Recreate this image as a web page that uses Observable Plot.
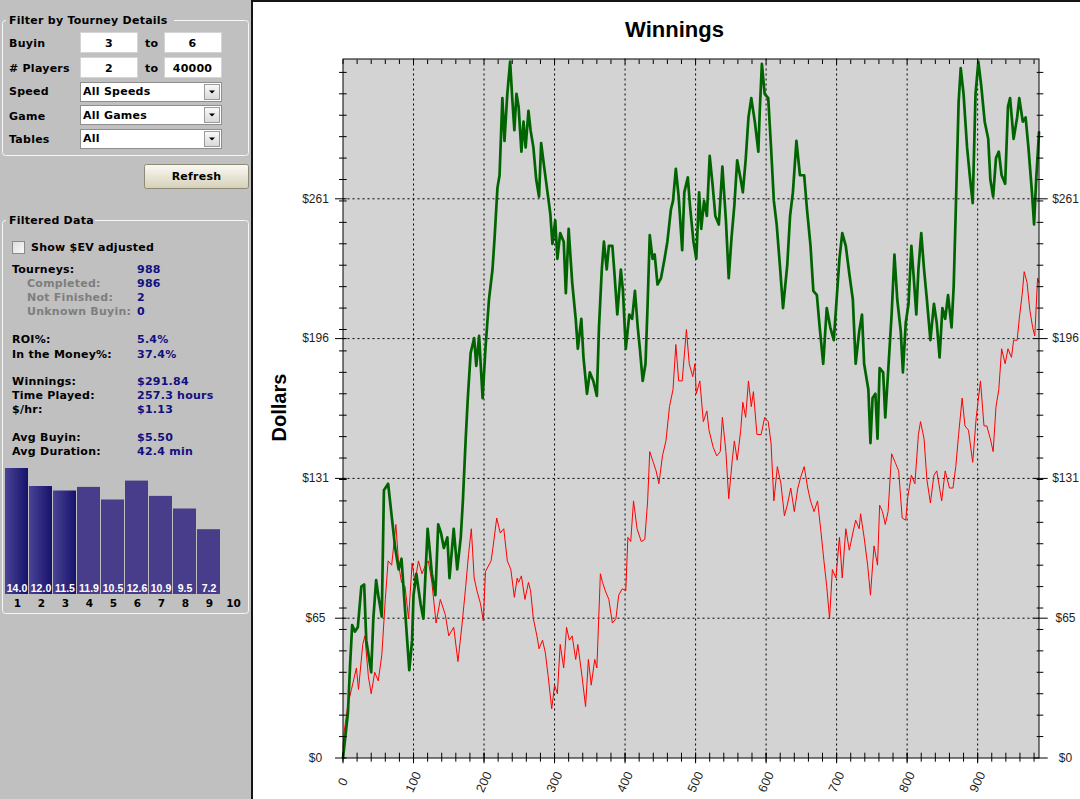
<!DOCTYPE html>
<html>
<head>
<meta charset="utf-8">
<script src="https://cdn.jsdelivr.net/npm/d3@7"></script>
<script src="https://cdn.jsdelivr.net/npm/@observablehq/plot@0.6"></script>
<style>
  html, body { margin:0; padding:0; }
  body { width:1080px; height:799px; position:relative; overflow:hidden; background:#fff; }
  #panel { position:absolute; left:0; top:0; }
  #bars { position:absolute; left:0; top:455px; width:250px; height:160px; }
  #chart { position:absolute; left:253px; top:0; }
  #sep { position:absolute; left:251px; top:0; width:2px; height:799px; background:#141414; }
  #topline { position:absolute; left:253px; top:0; width:827px; height:2px; background:#141414; }
  .pt { font-family:"DejaVu Sans", sans-serif; font-weight:bold; font-size:11px; letter-spacing:0.25px; }
</style>
</head>
<body>
<svg id="panel" width="251" height="799" xmlns="http://www.w3.org/2000/svg">
  <defs>
    <linearGradient id="btnGrad" x1="0" y1="0" x2="0" y2="1">
      <stop offset="0" stop-color="#fbfaf4"/><stop offset="1" stop-color="#d5d0b8"/>
    </linearGradient>
    <linearGradient id="ddGrad" x1="0" y1="0" x2="0" y2="1">
      <stop offset="0" stop-color="#fafafa"/><stop offset="1" stop-color="#d8d8d8"/>
    </linearGradient>
    <linearGradient id="cbGrad" x1="0" y1="0" x2="1" y2="1">
      <stop offset="0" stop-color="#dcdcdc"/><stop offset="1" stop-color="#fbfbfb"/>
    </linearGradient>
    <linearGradient id="barGrad" x1="0" y1="0" x2="1" y2="0">
      <stop offset="0" stop-color="#4a4396"/><stop offset="1" stop-color="#16126a"/>
    </linearGradient>
  </defs>
  <rect width="251" height="799" fill="#c0c0c0"/>
  <g fill="none" stroke="#f6f6f6">
    <rect x="2.5" y="20.5" width="246" height="135" rx="3"/>
    <rect x="2.5" y="220.5" width="246" height="393" rx="3"/>
  </g>
  <rect x="6" y="13" width="168" height="13" fill="#c0c0c0"/>
  <rect x="6" y="213" width="89" height="13" fill="#c0c0c0"/>
  <g class="pt" fill="#000">
    <text x="9" y="23.5">Filter by Tourney Details</text>
    <text x="9" y="47">Buyin</text>
    <text x="9" y="71.5">&#35; Players</text>
    <text x="9" y="94.7">Speed</text>
    <text x="9" y="119.5">Game</text>
    <text x="9" y="143">Tables</text>
  </g>
  <g fill="#fff" stroke="#d4d4d4">
    <rect x="80.5" y="32.5" width="57" height="20"/>
    <rect x="164.5" y="32.5" width="57" height="20"/>
    <rect x="80.5" y="57.5" width="57" height="20"/>
    <rect x="164.5" y="57.5" width="57" height="20"/>
  </g>
  <g fill="#fff" stroke="#8e8e8e">
    <rect x="80.5" y="82.5" width="141" height="19"/>
    <rect x="80.5" y="105.5" width="141" height="19"/>
    <rect x="80.5" y="129.5" width="141" height="19"/>
  </g>
  <g fill="url(#ddGrad)" stroke="#9a9a9a">
    <rect x="204.5" y="84.5" width="15" height="15"/>
    <rect x="204.5" y="107.5" width="15" height="15"/>
    <rect x="204.5" y="131.5" width="15" height="15"/>
  </g>
  <g fill="#000">
    <path d="M209,90.5 L215,90.5 L212,93.5 Z"/>
    <path d="M209,113.5 L215,113.5 L212,116.5 Z"/>
    <path d="M209,137.5 L215,137.5 L212,140.5 Z"/>
  </g>
  <g class="pt" fill="#000">
    <text x="109" y="47" text-anchor="middle">3</text>
    <text x="145" y="47">to</text>
    <text x="192.5" y="47" text-anchor="middle">6</text>
    <text x="109" y="71.5" text-anchor="middle">2</text>
    <text x="145" y="71.5">to</text>
    <text x="192.5" y="71.5" text-anchor="middle">40000</text>
    <text x="83" y="95">All Speeds</text>
    <text x="83" y="119">All Games</text>
    <text x="83" y="142.3">All</text>
  </g>
  <rect x="144.5" y="164.5" width="104" height="24" rx="2" fill="url(#btnGrad)" stroke="#8c8975"/>
  <text class="pt" x="196.5" y="180" text-anchor="middle" fill="#000">Refresh</text>
  <text class="pt" x="9" y="223.5" fill="#000">Filtered Data</text>
  <rect x="12.5" y="241.5" width="12" height="12" fill="url(#cbGrad)" stroke="#8a8a8a"/>
  <text class="pt" x="31" y="251" fill="#000">Show $EV adjusted</text>
  <g id="stats" class="pt"></g>
</svg>
<div id="bars"></div>
<div id="chart"></div>
<div id="sep"></div>
<div id="topline"></div>
<script>
// ---------- Left panel statistics ----------
const statLabels = ["Tourneys:", "Completed:", "Not Finished:", "Unknown Buyin:", "ROI%:", "In the Money%:", "Winnings:", "Time Played:", "$/hr:", "Avg Buyin:", "Avg Duration:"];
const statValues = ["988", "986", "2", "0", "5.4%", "37.4%", "$291.84", "257.3 hours", "$1.13", "$5.50", "42.4 min"];
const statIndented = [false, true, true, true, false, false, false, false, false, false, false];
const statRowY = [272.7, 287, 301, 315, 343.3, 357.5, 385, 399, 413, 441, 455];

const statsG = document.getElementById("stats");
const NS = "http://www.w3.org/2000/svg";
statLabels.forEach((lab, i) => {
  const t = document.createElementNS(NS, "text");
  t.setAttribute("x", statIndented[i] ? 27 : 12);
  t.setAttribute("y", statRowY[i]);
  t.setAttribute("fill", statIndented[i] ? "#7e7e7e" : "#000");
  t.textContent = lab;
  statsG.appendChild(t);
  const v = document.createElementNS(NS, "text");
  v.setAttribute("x", 137);
  v.setAttribute("y", statRowY[i]);
  v.setAttribute("fill", "#10107e");
  v.textContent = statValues[i];
  statsG.appendChild(v);
});

// ---------- Small bar chart ----------
const barCats = ["1", "2", "3", "4", "5", "6", "7", "8", "9", "10"];
const barVals = [14.0, 12.0, 11.5, 11.9, 10.5, 12.6, 10.9, 9.5, 7.2, null];
const barText = ["14.0", "12.0", "11.5", "11.9", "10.5", "12.6", "10.9", "9.5", "7.2", ""];
const barSelected = [true, true, true, false, false, false, false, false, false, false];
const bars = barCats.map((c, i) => ({c, v: barVals[i], lab: barText[i], sel: barSelected[i]}));

const barPlot = Plot.plot({
  width: 250, height: 160,
  marginLeft: 5, marginRight: 5, marginTop: 13, marginBottom: 21,
  x: {domain: barCats, padding: 0, axis: null},
  y: {domain: [0, 14], axis: null},
  style: {background: "transparent", overflow: "visible"},
  marks: [
    Plot.barY(bars.filter(d => d.v != null && !d.sel), {x: "c", y: "v", fill: "#483d8b", insetRight: 1}),
    Plot.barY(bars.filter(d => d.v != null && d.sel), {x: "c", y: "v", fill: "url(#barGrad)", insetRight: 1}),
    Plot.text(bars.filter(d => d.v != null), {x: "c", y: () => 0, text: "lab", dx: -0.5, dy: -5.7, lineAnchor: "middle",
      fill: "#fff", fontWeight: "bold", fontSize: 10.5, fontFamily: "Liberation Sans, Arial, sans-serif"}),
    Plot.text(bars, {x: "c", y: () => 0, text: "c", dy: 9.6, lineAnchor: "middle",
      fill: "#000", fontWeight: "bold", fontSize: 10.5, fontFamily: "DejaVu Sans, sans-serif"})
  ]
});
document.getElementById("bars").appendChild(barPlot);

// ---------- Winnings chart data ----------
const greenT = [0,7,10,13,17,21,26,30,33,40,43,47,50,55,58,64,69,74,79,83,88,94,98,100,104,110,114,120,123,126,131,135,139,143,148,151,157,162,167,170,174,177,181,186,189,193,198,202,207,212,215,219,222,226,229,233,237,240,243,246,
  249,253,256,259,263,266,270,274,278,281,286,290,294,297,301,304,308,313,316,320,325,330,333,338,341,346,350,355,360,363,367,370,374,377,382,385,389,394,397,401,406,410,414,418,421,425,429,432,435,439,442,446,451,456,460,465,468,472,476,481,484,489,492,
  497,501,505,508,512,516,520,524,528,533,538,543,547,551,555,559,564,567,571,575,579,584,589,591,594,598,603,607,611,615,620,624,630,634,638,643,648,654,658,663,667,672,676,681,686,691,696,700,704,708,713,718,723,727,732,736,739,
  745,748,751,755,758,761,766,769,773,778,782,786,791,794,798,802,806,809,813,816,820,824,828,833,838,842,846,850,854,858,863,866,869,873,876,880,885,890,893,897,901,905,910,915,918,922,926,930,934,939,943,946,951,956,959,964,968,972,977,980,983,987];
const greenV = [0,21,43,62,59,61,80,81,55,40,65,83,76,66,125,128,113,98,88,93,69,41,55,76,86,72,65,107,97,86,76,109,105,98,103,84,107,88,103,120,149,168,189,196,183,197,168,191,214,228,243,266,272,308,288,310,325,308,293,310,
  304,283,297,285,302,293,285,270,262,287,274,264,254,240,251,233,245,241,217,247,222,205,191,205,187,170,180,176,169,201,228,241,228,239,239,226,207,228,218,191,207,205,218,201,191,176,184,212,244,233,235,221,224,233,241,256,260,275,262,237,264,271,258,
  241,233,264,247,260,253,281,268,253,249,276,251,224,243,258,279,270,264,279,299,308,297,283,302,324,310,308,285,260,249,228,210,230,253,264,288,272,272,256,239,218,216,201,184,210,201,195,214,233,245,239,226,214,184,199,207,184,
  172,147,168,170,149,182,180,159,180,207,235,214,199,180,203,212,239,226,207,228,245,228,214,195,212,203,187,210,205,216,201,220,256,306,322,310,285,268,259,310,325,314,297,289,270,262,280,283,272,268,304,308,289,299,308,297,299,285,264,249,270,292];

const redT = [0,2,7,12,19,22,28,31,36,40,45,50,55,60,64,69,75,79,83,88,93,98,102,107,112,117,121,126,132,138,145,150,157,163,169,174,178,182,186,190,195,199,202,210,213,218,223,228,233,238,243,247,
  249,253,258,263,266,270,275,278,283,287,291,296,300,304,308,313,317,321,325,330,333,339,344,348,352,357,360,365,368,372,377,382,387,391,396,401,404,408,412,417,423,428,432,435,440,444,448,453,458,463,468,472,476,481,487,491,496,
  499,501,506,511,516,519,525,530,535,538,543,547,552,555,559,564,567,571,575,579,582,587,593,598,603,607,611,616,621,626,630,635,640,645,649,654,659,663,668,673,678,682,686,690,694,699,704,708,713,718,723,727,732,734,739,744,
  748,753,758,761,765,769,773,778,783,788,793,798,801,806,811,816,819,824,828,833,838,842,849,854,860,865,869,873,878,882,887,893,898,904,909,913,918,922,926,930,934,939,943,948,951,956,959,963,966,970,974,978,981,985,987];
const redV = [5,13,25,32,42,32,53,57,38,30,40,36,48,74,92,90,109,90,82,80,65,91,82,92,86,90,92,82,63,74,67,57,61,45,63,80,95,107,84,78,72,64,87,92,99,112,105,107,92,88,75,84,
  82,85,74,82,78,65,57,51,55,49,38,23,34,30,53,42,61,55,57,46,53,38,24,46,34,46,42,86,82,78,74,63,65,76,79,78,103,101,120,107,101,102,120,143,138,134,128,141,148,164,172,193,176,176,200,184,178,
  184,170,176,157,162,153,145,141,143,159,143,121,139,148,139,153,166,159,176,164,171,151,151,159,157,147,120,136,128,113,118,126,115,126,131,136,126,120,115,120,105,92,80,65,88,84,103,84,107,97,105,111,107,114,103,90,
  76,99,90,118,115,109,115,142,138,134,112,111,122,132,128,151,157,149,130,119,132,134,120,134,126,126,136,151,168,155,153,138,159,176,155,155,149,143,164,172,191,184,191,187,195,195,205,216,227,222,209,201,197,224,222];

const xMajor = [0, 100, 200, 300, 400, 500, 600, 700, 800, 900];
const xLabels = ["0", "100", "200", "300", "400", "500", "600", "700", "800", "900"];
const xMinor = d3.range(0, 988, 20);
const yMajor = [0, 65.25, 130.5, 195.75, 261];
const yLabels = ["$0", "$65", "$131", "$196", "$261"];
const yMinor = d3.range(10, 330, 10);

const green = greenT.map((t, i) => ({t, v: greenV[i]}));
const red = redT.map((t, i) => ({t, v: redV[i]}));

const font = "Liberation Sans, Arial, sans-serif";
const grid = {stroke: "#000", strokeOpacity: 1, strokeWidth: 1, strokeDasharray: "2,3"};
const hideText = {fill: "none", label: null, stroke: "#000", strokeOpacity: 1};

const chart = Plot.plot({
  width: 827, height: 799,
  marginLeft: 89.5, marginRight: 41.5, marginTop: 58.5, marginBottom: 41.5,
  style: {background: "#fff", fontFamily: font, overflow: "visible"},
  x: {domain: [0, 987]},
  y: {domain: [0, 326.25]},
  marks: [
    Plot.frame({fill: "#d3d3d3", stroke: "none"}),
    Plot.gridY(yMajor.slice(1), grid),
    Plot.gridX(xMajor.slice(1), grid),
    Plot.line(red, {x: "t", y: "v", stroke: "#ff0000", strokeWidth: 1}),
    Plot.line(green, {x: "t", y: "v", stroke: "#006400", strokeWidth: 2.7, strokeLinejoin: "round"}),
    Plot.frame({stroke: "#000", strokeWidth: 1}),
    Plot.axisY(yMinor, {anchor: "left", tickSize: 7.7, dx: 4.2, ...hideText}),
    Plot.axisY(yMajor, {anchor: "left", tickSize: 11.7, dx: 4.2, ...hideText}),
    Plot.axisY(yMinor, {anchor: "right", tickSize: 6.6, dx: -2.8, ...hideText}),
    Plot.axisY(yMajor, {anchor: "right", tickSize: 14, dx: -5.8, ...hideText}),
    Plot.axisX(xMinor, {anchor: "bottom", tickSize: 9, dy: -4.8, ...hideText}),
    Plot.axisX(xMajor, {anchor: "bottom", tickSize: 10.6, dy: -4.8, ...hideText}),
    Plot.axisX(xMinor, {anchor: "top", tickSize: 4.5, dy: 4.5, ...hideText}),
    Plot.text(yMajor, {y: d => d, text: (d, i) => yLabels[i], frameAnchor: "left", dx: -27.5,
      textAnchor: "middle", lineAnchor: "middle", fontSize: 12, fontFamily: font, fill: "#1e1e1e"}),
    Plot.text(yMajor, {y: d => d, text: (d, i) => yLabels[i], frameAnchor: "right", dx: 26.5,
      textAnchor: "middle", lineAnchor: "middle", fontSize: 12, fontFamily: font, fill: "#1e1e1e"}),
    Plot.text(xMajor, {x: d => d, text: (d, i) => xLabels[i], frameAnchor: "bottom", dy: 24, rotate: -65,
      textAnchor: "middle", lineAnchor: "middle", fontSize: 12.5, fontFamily: font, fill: "#1e1e1e"}),
    Plot.text(["Winnings"], {text: d => d, frameAnchor: "top", dx: -16.5, dy: -29, lineAnchor: "middle",
      fontSize: 22, fontWeight: "bold", fontFamily: font, fill: "#000"}),
    Plot.text(["Dollars"], {text: d => d, frameAnchor: "left", dx: -63.9, dy: -1, rotate: -90,
      textAnchor: "middle", lineAnchor: "middle",
      fontSize: 20, fontWeight: "bold", fontFamily: font, fill: "#000"})
  ]
});
document.getElementById("chart").appendChild(chart);
</script>
</body>
</html>
